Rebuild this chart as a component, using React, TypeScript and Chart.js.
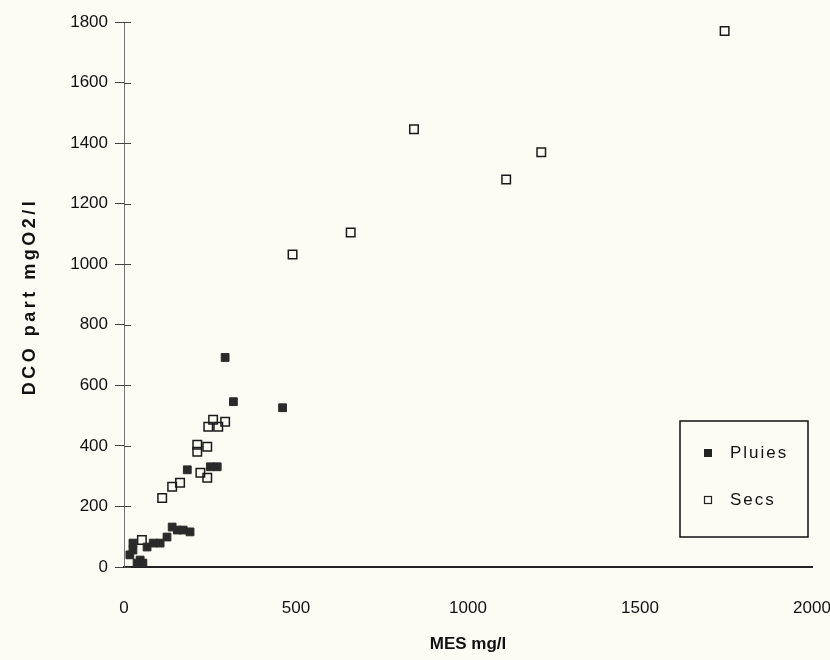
import { useEffect, useRef } from "react";
import { Chart, registerables } from "chart.js";

Chart.register(...registerables);

// ---- data ----
const pluiesMES = [294, 318, 461, 184, 271, 251, 125, 140, 155, 172, 192, 105, 85, 67, 26, 26, 47, 55, 38, 17];
const pluiesDCO = [692, 546, 526, 321, 331, 331, 99, 132, 122, 122, 116, 79, 79, 66, 79, 56, 23, 13, 13, 40];
const secsMES = [1746, 843, 1213, 1111, 659, 490, 259, 294, 245, 274, 213, 242, 213, 222, 242, 163, 140, 111, 52];
const secsDCO = [1770, 1446, 1370, 1280, 1105, 1032, 486, 480, 463, 463, 404, 397, 381, 311, 295, 278, 265, 228, 89];
const xTickValues = [0, 500, 1000, 1500, 2000];
const yTickValues = [0, 200, 400, 600, 800, 1000, 1200, 1400, 1600, 1800];
const seriesNames = ["Pluies", "Secs"];
const xTitle = "MES mg/l";
const yTitle = "DCO part mgO2/l";

const FONT = "'Liberation Sans', Arial, Helvetica, sans-serif";

const bgPlugin = {
  id: "bg",
  beforeDraw(chart: any) {
    const { ctx, width, height } = chart;
    ctx.save();
    ctx.fillStyle = "#fcfcf5";
    ctx.fillRect(0, 0, width, height);
    ctx.restore();
  },
};

const innerTicksPlugin = {
  id: "innerTicks",
  afterDraw(chart: any) {
    const { ctx } = chart;
    const y = chart.scales.y;
    ctx.save();
    ctx.strokeStyle = "#444";
    ctx.lineWidth = 1;
    y.ticks.forEach((t: any) => {
      const py = Math.round(y.getPixelForValue(t.value)) + 0.5;
      ctx.beginPath();
      ctx.moveTo(y.right, py);
      ctx.lineTo(y.right + 7, py);
      ctx.stroke();
    });
    ctx.restore();
  },
};

const yTitlePlugin = {
  id: "yTitle",
  afterDraw(chart: any) {
    const { ctx } = chart;
    const y = chart.scales.y;
    const cy = (y.top + y.bottom) / 2 + 2;
    ctx.save();
    ctx.translate(30, cy);
    ctx.rotate(-Math.PI / 2);
    ctx.font = `bold 18px ${FONT}`;
    (ctx as any).letterSpacing = "3.5px";
    ctx.fillStyle = "#111";
    ctx.textAlign = "center";
    ctx.textBaseline = "middle";
    ctx.fillText(yTitle, 0, 0);
    ctx.restore();
  },
};

const boxLegendPlugin = {
  id: "boxLegend",
  afterDraw(chart: any) {
    const { ctx } = chart;
    const x0 = 680, y0 = 421, w = 128, h = 116;
    ctx.save();
    ctx.strokeStyle = "#111";
    ctx.lineWidth = 1.5;
    ctx.strokeRect(x0, y0, w, h);
    ctx.font = `17px ${FONT}`;
    (ctx as any).letterSpacing = "2px";
    ctx.textBaseline = "middle";
    chart.data.datasets.forEach((ds: any, i: number) => {
      const cy = y0 + 32 + i * 47;
      const mx = x0 + 28;
      if (i === 0) {
        ctx.fillStyle = "#222";
        ctx.fillRect(mx - 4, cy - 4, 8, 8);
      } else {
        ctx.strokeStyle = "#222";
        ctx.lineWidth = 1.2;
        ctx.strokeRect(mx - 3.5, cy - 3.5, 7, 7);
      }
      ctx.fillStyle = "#111";
      ctx.fillText(ds.label, x0 + 50, cy);
    });
    ctx.restore();
  },
};

export default function App() {
  const ref = useRef<HTMLCanvasElement | null>(null);

  useEffect(() => {
    if (!ref.current) return;
    const chart = new Chart(ref.current, {
      type: "scatter",
      data: {
        datasets: [
          {
            label: seriesNames[0],
            data: pluiesMES.map((x, i) => ({ x, y: pluiesDCO[i] })),
            pointStyle: "rect",
            pointRadius: 5.5,
            pointBackgroundColor: "#2a2a2a",
            pointBorderColor: "#2a2a2a",
            pointBorderWidth: 1,
          },
          {
            label: seriesNames[1],
            data: secsMES.map((x, i) => ({ x, y: secsDCO[i] })),
            pointStyle: "rect",
            pointRadius: 6,
            pointBackgroundColor: "rgba(0,0,0,0)",
            pointBorderColor: "#1a1a1a",
            pointBorderWidth: 1.5,
          },
        ],
      },
      options: {
        animation: false,
        responsive: false,
        events: [],
        layout: { padding: { top: 22, right: 18, left: 0, bottom: 0 } },
        plugins: {
          legend: { display: false },
          tooltip: { enabled: false },
        },
        scales: {
          x: {
            type: "linear",
            min: 0,
            max: 2000,
            afterFit: (s: any) => {
              s.height = 93;
              s.paddingLeft = 0;
              s.paddingRight = 0;
            },
            afterBuildTicks: (s: any) => {
              s.ticks = xTickValues.map((v) => ({ value: v }));
            },
            ticks: {
              callback: (v: any) => String(v),
              color: "#111",
              font: { family: FONT, size: 17 },
              padding: 31,
              maxRotation: 0,
            },
            grid: { display: false, drawTicks: false },
            border: { display: true, color: "#222", width: 2 },
            title: {
              display: true,
              text: xTitle,
              color: "#111",
              font: { family: FONT, size: 17, weight: "bold" },
              padding: { top: 4, bottom: 5 },
            },
          },
          y: {
            type: "linear",
            min: 0,
            max: 1800,
            afterFit: (s: any) => {
              s.width = 124;
              s.paddingTop = 0;
              s.paddingBottom = 0;
            },
            afterBuildTicks: (s: any) => {
              s.ticks = yTickValues.map((v) => ({ value: v }));
            },
            ticks: {
              callback: (v: any) => String(v),
              color: "#111",
              font: { family: FONT, size: 17 },
              padding: 7,
            },
            grid: {
              display: true,
              drawOnChartArea: false,
              drawTicks: true,
              tickLength: 9,
              color: "#444",
            },
            border: { display: true, color: "#777", width: 1 },
            title: { display: false },
          },
        },
      } as any,
      plugins: [bgPlugin, innerTicksPlugin, yTitlePlugin, boxLegendPlugin],
    });
    return () => chart.destroy();
  }, []);

  return (
    <div style={{ position: "fixed", left: 0, top: 0, width: 830, height: 660 }}>
      <canvas ref={ref} width={830} height={660} style={{ width: 830, height: 660, display: "block" }} />
    </div>
  );
}
